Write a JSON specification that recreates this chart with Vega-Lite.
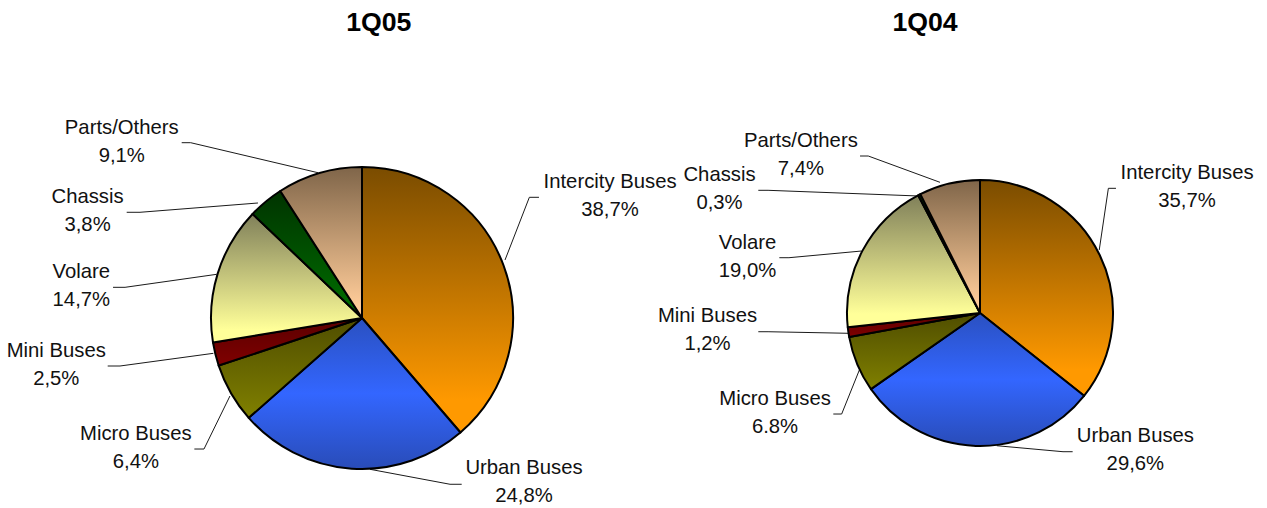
{
"$schema":"https://vega.github.io/schema/vega-lite/v6.json",
"width":1267,"height":508,"padding":0,
"autosize":{"type":"fit","contains":"padding"},
"background":"white",
"config":{"view":{"stroke":null}},
"datasets":{
"slices":[
{"period":"1Q05","segment":"Intercity Buses","share":38.7,"order":1},
{"period":"1Q05","segment":"Urban Buses","share":24.8,"order":2},
{"period":"1Q05","segment":"Micro Buses","share":6.4,"order":3},
{"period":"1Q05","segment":"Mini Buses","share":2.5,"order":4},
{"period":"1Q05","segment":"Volare","share":14.7,"order":5},
{"period":"1Q05","segment":"Chassis","share":3.8,"order":6},
{"period":"1Q05","segment":"Parts/Others","share":9.1,"order":7},
{"period":"1Q04","segment":"Intercity Buses","share":35.7,"order":1},
{"period":"1Q04","segment":"Urban Buses","share":29.6,"order":2},
{"period":"1Q04","segment":"Micro Buses","share":6.8,"order":3},
{"period":"1Q04","segment":"Mini Buses","share":1.2,"order":4},
{"period":"1Q04","segment":"Volare","share":19.0,"order":5},
{"period":"1Q04","segment":"Chassis","share":0.3,"order":6},
{"period":"1Q04","segment":"Parts/Others","share":7.4,"order":7}
],
"labels":[
{"text":"Intercity Buses\n38,7%","lx":48.15,"ly":37.07},
{"text":"Urban Buses\n24,8%","lx":41.36,"ly":93.37},
{"text":"Micro Buses\n6,4%","lx":10.72,"ly":86.61},
{"text":"Mini Buses\n2,5%","lx":4.44,"ly":70.22},
{"text":"Volare\n14,7%","lx":6.42,"ly":54.67},
{"text":"Chassis\n3,8%","lx":6.91,"ly":39.90},
{"text":"Parts/Others\n9,1%","lx":9.61,"ly":26.44},
{"text":"Intercity Buses\n35,7%","lx":93.69,"ly":35.30},
{"text":"Urban Buses\n29,6%","lx":89.61,"ly":86.95},
{"text":"Micro Buses\n6.8%","lx":61.17,"ly":79.72},
{"text":"Mini Buses\n1,2%","lx":55.84,"ly":63.33},
{"text":"Volare\n19,0%","lx":59.00,"ly":49.02},
{"text":"Chassis\n0,3%","lx":56.79,"ly":35.63},
{"text":"Parts/Others\n7,4%","lx":63.21,"ly":28.88}
],
"titles":[
{"text":"1Q05","lx":29.90,"ly":6.10},
{"text":"1Q04","lx":73.01,"ly":6.10}
],
"leaders":[
{"key":"05-intercity","pt":1,"lx":42.54,"ly":38.84},{"key":"05-intercity","pt":2,"lx":41.78,"ly":38.84},{"key":"05-intercity","pt":3,"lx":39.86,"ly":51.18},
{"key":"05-urban","pt":1,"lx":36.44,"ly":95.33},{"key":"05-urban","pt":2,"lx":35.52,"ly":95.33},{"key":"05-urban","pt":3,"lx":29.20,"ly":92.38},
{"key":"05-micro","pt":1,"lx":15.34,"ly":88.39},{"key":"05-micro","pt":2,"lx":16.10,"ly":88.39},{"key":"05-micro","pt":3,"lx":18.15,"ly":77.95},
{"key":"05-mini","pt":1,"lx":8.50,"ly":72.05},{"key":"05-mini","pt":2,"lx":9.47,"ly":72.05},{"key":"05-mini","pt":3,"lx":16.84,"ly":69.55},
{"key":"05-volare","pt":1,"lx":8.92,"ly":56.56},{"key":"05-volare","pt":2,"lx":9.87,"ly":56.56},{"key":"05-volare","pt":3,"lx":17.10,"ly":54.00},
{"key":"05-chassis","pt":1,"lx":10.00,"ly":41.79},{"key":"05-chassis","pt":2,"lx":11.05,"ly":41.79},{"key":"05-chassis","pt":3,"lx":20.36,"ly":39.96},
{"key":"05-parts","pt":1,"lx":14.34,"ly":28.09},{"key":"05-parts","pt":2,"lx":15.05,"ly":28.09},{"key":"05-parts","pt":3,"lx":25.10,"ly":34.00},
{"key":"04-intercity","pt":1,"lx":88.08,"ly":37.07},{"key":"04-intercity","pt":2,"lx":87.48,"ly":37.07},{"key":"04-intercity","pt":3,"lx":86.76,"ly":49.21},
{"key":"04-urban","pt":1,"lx":84.66,"ly":88.92},{"key":"04-urban","pt":2,"lx":83.90,"ly":88.92},{"key":"04-urban","pt":3,"lx":78.67,"ly":87.74},
{"key":"04-micro","pt":1,"lx":65.77,"ly":81.50},{"key":"04-micro","pt":2,"lx":66.43,"ly":81.50},{"key":"04-micro","pt":3,"lx":67.88,"ly":72.50},
{"key":"04-mini","pt":1,"lx":59.85,"ly":65.30},{"key":"04-mini","pt":2,"lx":60.62,"ly":65.30},{"key":"04-mini","pt":3,"lx":67.01,"ly":65.61},
{"key":"04-volare","pt":1,"lx":61.51,"ly":50.73},{"key":"04-volare","pt":2,"lx":62.27,"ly":50.73},{"key":"04-volare","pt":3,"lx":68.01,"ly":49.41},
{"key":"04-chassis","pt":1,"lx":59.85,"ly":37.46},{"key":"04-chassis","pt":2,"lx":60.62,"ly":37.46},{"key":"04-chassis","pt":3,"lx":72.48,"ly":38.58},
{"key":"04-parts","pt":1,"lx":67.88,"ly":30.71},{"key":"04-parts","pt":2,"lx":68.53,"ly":30.71},{"key":"04-parts","pt":3,"lx":74.19,"ly":35.89}
]
},
"resolve":{"scale":{"x":"independent","y":"independent"}},
"layer":[
{
"data":{"name":"leaders"},
"mark":{"type":"line","stroke":"#1a1a1a","strokeWidth":1,"interpolate":"linear"},
"encoding":{
"x":{"field":"lx","type":"quantitative","scale":{"domain":[0,100],"nice":false,"zero":false},"axis":null},
"y":{"field":"ly","type":"quantitative","scale":{"domain":[100,0],"nice":false,"zero":false},"axis":null},
"detail":{"field":"key"},
"order":{"field":"pt","type":"quantitative"}
}
},
{
"data":{"name":"slices"},
"transform":[{"stack":"share","groupby":["period"],"sort":[{"field":"order","order":"ascending"}],"as":["s0","s1"]}],
"encoding":{
"x":{"field":"period","type":"nominal","sort":["1Q05","1Q04"],"scale":{"type":"point","domain":["1Q05","1Q04"],"range":[362,980],"padding":0},"axis":null},
"y":{"field":"period","type":"nominal","sort":["1Q05","1Q04"],"scale":{"type":"point","domain":["1Q05","1Q04"],"range":[318,313],"padding":0},"axis":null},
"theta":{"field":"s0","type":"quantitative","scale":{"domain":[0,100],"range":[0,6.283185307]}},
"theta2":{"field":"s1"},
"radius":{"field":"period","type":"nominal","scale":{"type":"point","domain":["1Q05","1Q04"],"range":[151,133],"padding":0},"legend":null},
"radius2":{"value":0}
},
"layer":[
{"transform":[{"filter":"datum.segment==='Intercity Buses'"}],"mark":{"type":"arc","stroke":"#000","strokeWidth":2,"strokeJoin":"round","fill":{"gradient":"linear","x1":0,"y1":0,"x2":0,"y2":1,"stops":[{"offset":0,"color":"#7a4c00"},{"offset":0.88,"color":"#ff9900"},{"offset":1,"color":"#ff9900"}]}}},
{"transform":[{"filter":"datum.segment==='Urban Buses'"}],"mark":{"type":"arc","stroke":"#000","strokeWidth":2,"strokeJoin":"round","fill":{"gradient":"linear","x1":0,"y1":0,"x2":0,"y2":1,"stops":[{"offset":0,"color":"#2a50c0"},{"offset":0.5,"color":"#3366ff"},{"offset":1,"color":"#294cb8"}]}}},
{"transform":[{"filter":"datum.segment==='Micro Buses'"}],"mark":{"type":"arc","stroke":"#000","strokeWidth":2,"strokeJoin":"round","fill":{"gradient":"linear","x1":0,"y1":0,"x2":0,"y2":1,"stops":[{"offset":0,"color":"#4f4d00"},{"offset":1,"color":"#808000"}]}}},
{"transform":[{"filter":"datum.segment==='Mini Buses'"}],"mark":{"type":"arc","stroke":"#000","strokeWidth":2,"strokeJoin":"round","fill":{"gradient":"linear","x1":0,"y1":0,"x2":0,"y2":1,"stops":[{"offset":0,"color":"#5a0000"},{"offset":1,"color":"#800000"}]}}},
{"transform":[{"filter":"datum.segment==='Volare'"}],"mark":{"type":"arc","stroke":"#000","strokeWidth":2,"strokeJoin":"round","fill":{"gradient":"linear","x1":0,"y1":0,"x2":0,"y2":1,"stops":[{"offset":0,"color":"#80805a"},{"offset":0.9,"color":"#ffff99"},{"offset":1,"color":"#ffff99"}]}}},
{"transform":[{"filter":"datum.segment==='Chassis'"}],"mark":{"type":"arc","stroke":"#000","strokeWidth":2,"strokeJoin":"round","fill":{"gradient":"linear","x1":0,"y1":0,"x2":0,"y2":1,"stops":[{"offset":0,"color":"#003300"},{"offset":1,"color":"#007000"}]}}},
{"transform":[{"filter":"datum.segment==='Parts/Others'"}],"mark":{"type":"arc","stroke":"#000","strokeWidth":2,"strokeJoin":"round","fill":{"gradient":"linear","x1":0,"y1":0,"x2":0,"y2":1,"stops":[{"offset":0,"color":"#7f6549"},{"offset":0.92,"color":"#ffcc99"},{"offset":1,"color":"#ffcc99"}]}}}
]
},
{
"data":{"name":"labels"},
"mark":{"type":"text","font":"Liberation Sans","fontSize":20.3,"color":"#111","align":"center","baseline":"alphabetic","lineBreak":"\n","lineHeight":28},
"encoding":{
"x":{"field":"lx","type":"quantitative","scale":{"domain":[0,100],"nice":false,"zero":false},"axis":null},
"y":{"field":"ly","type":"quantitative","scale":{"domain":[100,0],"nice":false,"zero":false},"axis":null},
"text":{"field":"text"}
}
},
{
"data":{"name":"titles"},
"mark":{"type":"text","font":"Liberation Sans","fontSize":26.67,"fontWeight":"bold","color":"#000","align":"center","baseline":"alphabetic"},
"encoding":{
"x":{"field":"lx","type":"quantitative","scale":{"domain":[0,100],"nice":false,"zero":false},"axis":null},
"y":{"field":"ly","type":"quantitative","scale":{"domain":[100,0],"nice":false,"zero":false},"axis":null},
"text":{"field":"text"}
}
}
]
}
